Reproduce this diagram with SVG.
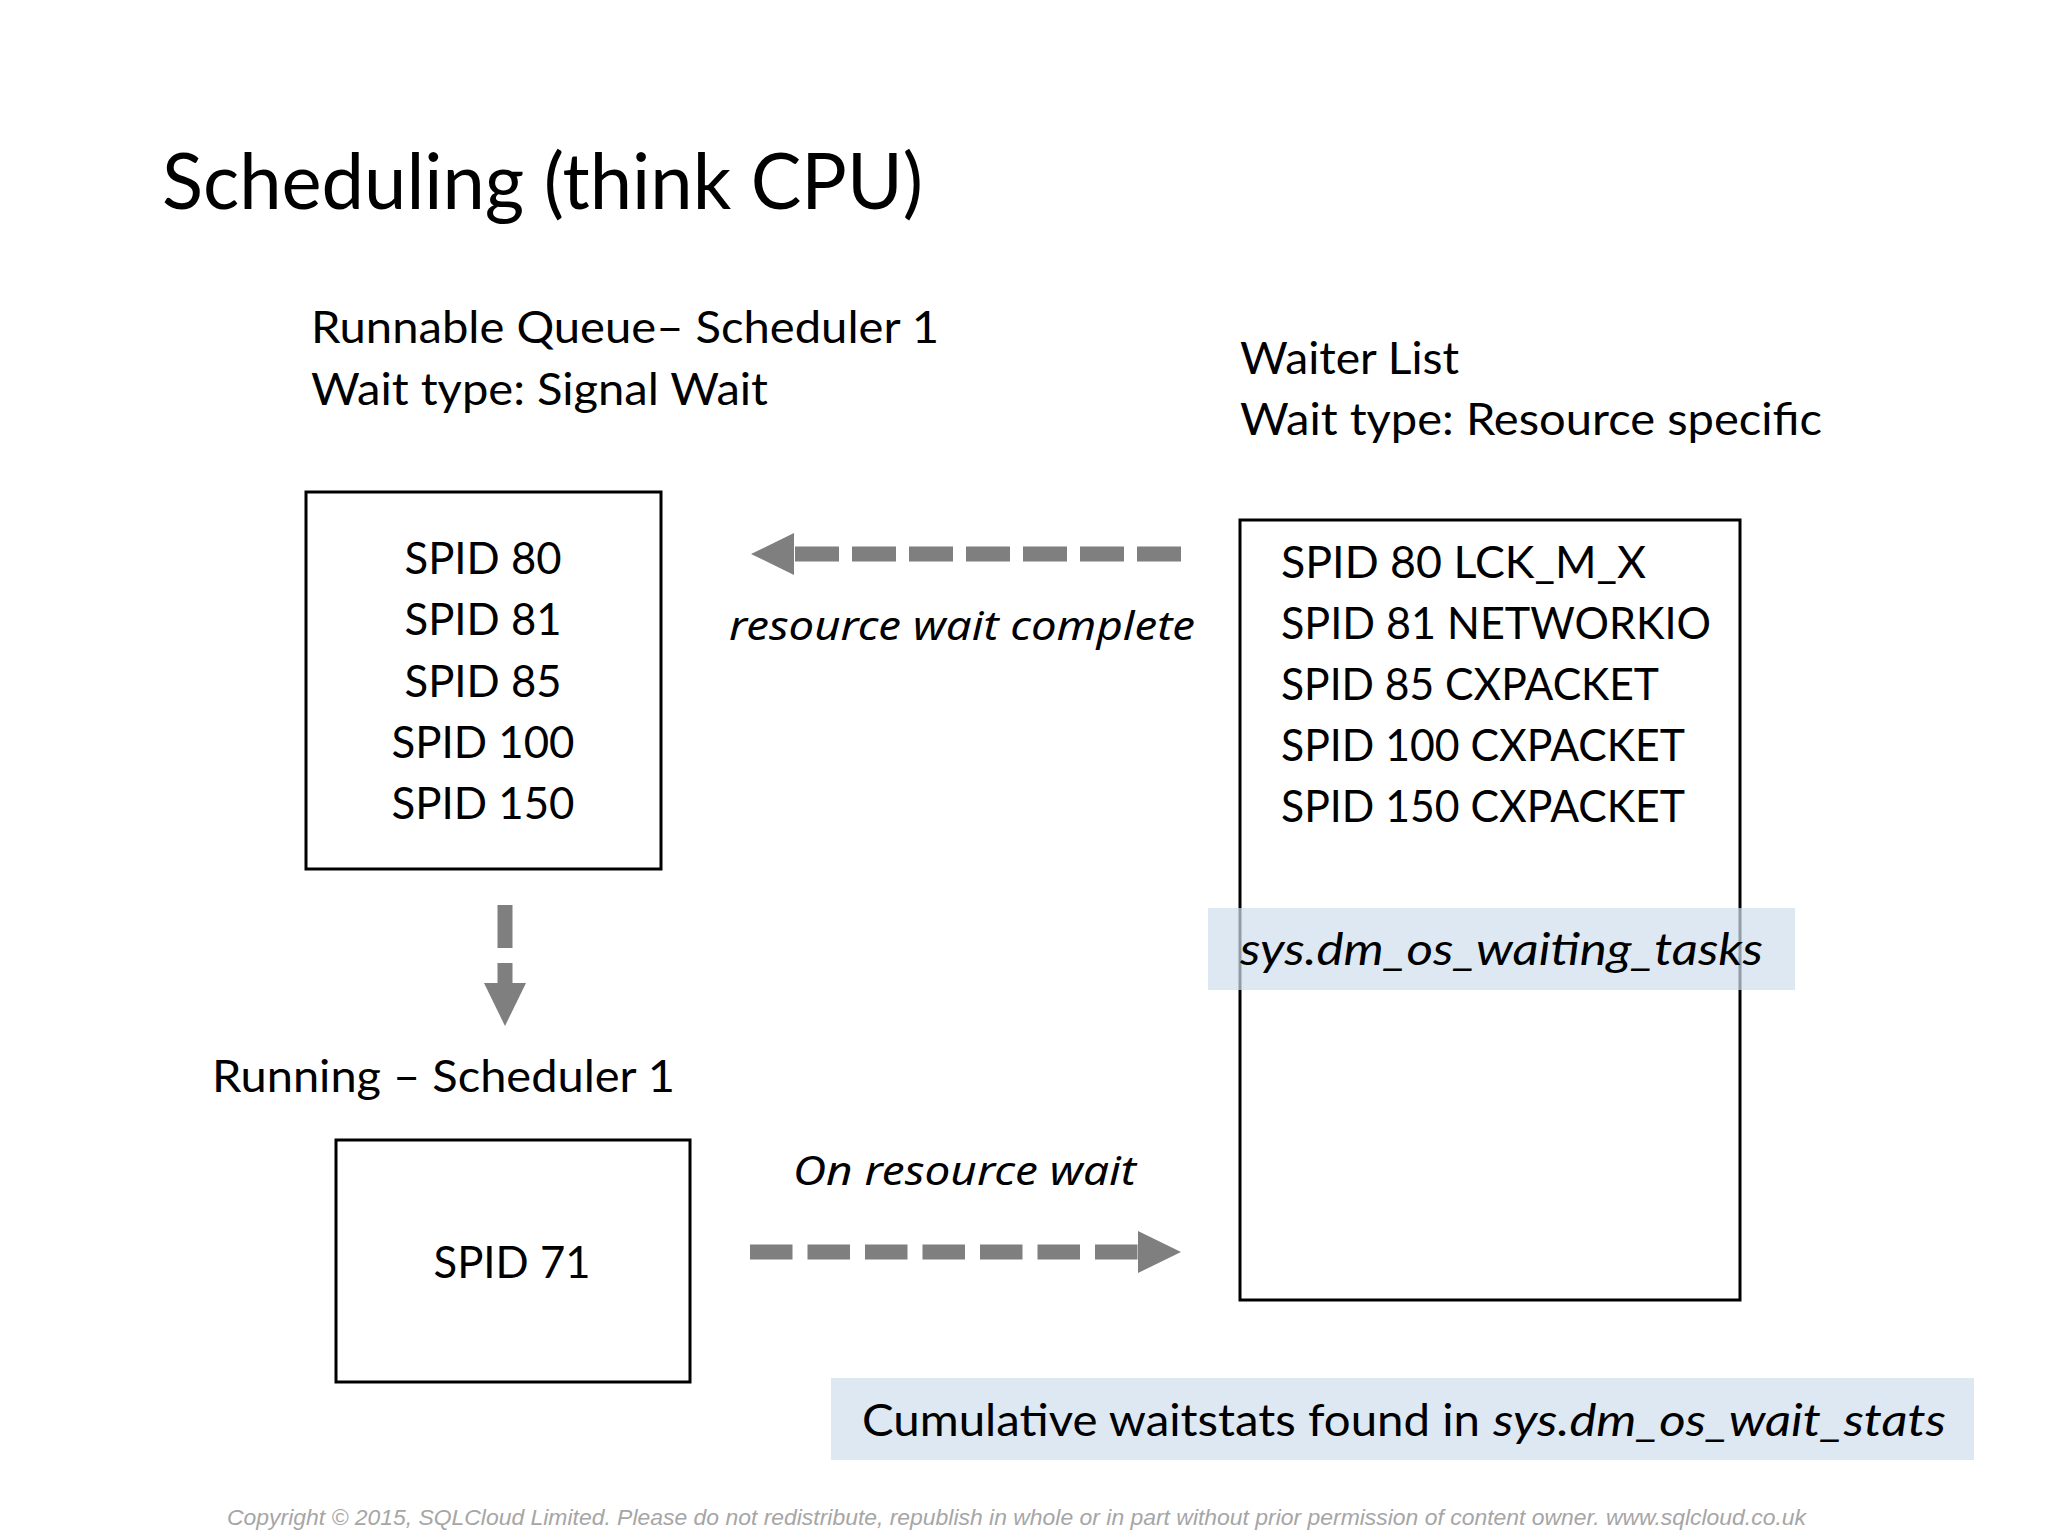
<svg xmlns="http://www.w3.org/2000/svg" width="2048" height="1536" viewBox="0 0 2048 1536">
  <style>
    .t { font-family: Lato, "Open Sans", sans-serif; fill: #000; }
    .h { font-size: 45px; }
    .it { font-style: italic; }
    .script { font-family: "Noto Sans", "Open Sans", sans-serif; font-style: italic; font-size: 40px; fill: #000; }
    .box { fill: none; stroke: #000; stroke-width: 3; }
    .hl { fill: #dde8f3; }
    .conn { fill: none; stroke: #7f7f7f; stroke-width: 15; }
    .copy { font-family: "Liberation Sans", Arial, sans-serif; font-style: italic; font-size: 22px; fill: #a6a6a6; }
  </style>
  <defs>
    <marker id="head" markerUnits="userSpaceOnUse" viewBox="0 0 43 42" refX="0" refY="21" markerWidth="43" markerHeight="42" orient="auto">
      <path d="M0,0 L43,21 L0,42 Z" fill="#7f7f7f"/>
    </marker>
  </defs>
  <rect width="2048" height="1536" fill="#ffffff"/>

  <g id="title">
    <text class="t" x="162" y="209" font-size="78" textLength="761" lengthAdjust="spacingAndGlyphs">Scheduling (think CPU)</text>
  </g>

  <g id="runnable-label">
    <text class="t h" x="311" y="343" textLength="628" lengthAdjust="spacingAndGlyphs">Runnable Queue– Scheduler 1</text>
    <text class="t h" x="311" y="405" textLength="457" lengthAdjust="spacingAndGlyphs">Wait type: Signal Wait</text>
  </g>

  <g id="waiter-label">
    <text class="t h" x="1240" y="374" textLength="219" lengthAdjust="spacingAndGlyphs">Waiter List</text>
    <text class="t h" x="1240" y="435" textLength="582" lengthAdjust="spacingAndGlyphs">Wait type: Resource specific</text>
  </g>

  <g id="runnable-queue">
    <rect class="box" x="306" y="492" width="355" height="377"/>
    <text class="t h" x="483" y="574" text-anchor="middle" textLength="157" lengthAdjust="spacingAndGlyphs">SPID 80</text>
    <text class="t h" x="483" y="635" text-anchor="middle" textLength="157" lengthAdjust="spacingAndGlyphs">SPID 81</text>
    <text class="t h" x="483" y="697" text-anchor="middle" textLength="157" lengthAdjust="spacingAndGlyphs">SPID 85</text>
    <text class="t h" x="483" y="758" text-anchor="middle" textLength="183" lengthAdjust="spacingAndGlyphs">SPID 100</text>
    <text class="t h" x="483" y="819" text-anchor="middle" textLength="183" lengthAdjust="spacingAndGlyphs">SPID 150</text>
  </g>

  <g id="waiter-list">
    <rect class="box" x="1240" y="520" width="500" height="780"/>
    <text class="t h" x="1281" y="578" textLength="365" lengthAdjust="spacingAndGlyphs">SPID 80 LCK_M_X</text>
    <text class="t h" x="1281" y="639" textLength="430" lengthAdjust="spacingAndGlyphs">SPID 81 NETWORKIO</text>
    <text class="t h" x="1281" y="700" textLength="378" lengthAdjust="spacingAndGlyphs">SPID 85 CXPACKET</text>
    <text class="t h" x="1281" y="761" textLength="404" lengthAdjust="spacingAndGlyphs">SPID 100 CXPACKET</text>
    <text class="t h" x="1281" y="822" textLength="404" lengthAdjust="spacingAndGlyphs">SPID 150 CXPACKET</text>
  </g>

  <g id="waiting-tasks">
    <rect x="1208" y="908" width="587" height="82" fill="rgb(206,222,238)" fill-opacity="0.7"/>
    <text class="t h it" x="1240" y="965" textLength="523" lengthAdjust="spacingAndGlyphs">sys.dm_os_waiting_tasks</text>
  </g>

  <g id="running-label">
    <text class="t h" x="212" y="1092" textLength="463" lengthAdjust="spacingAndGlyphs">Running – Scheduler 1</text>
  </g>

  <g id="running">
    <rect class="box" x="336" y="1140" width="354" height="242"/>
    <text class="t h" x="512" y="1278" text-anchor="middle" textLength="157" lengthAdjust="spacingAndGlyphs">SPID 71</text>
  </g>

  <g id="connectors">
    <line class="conn" x1="1181" y1="554" x2="794" y2="554" stroke-dasharray="44 13" marker-end="url(#head)"/>
    <line class="conn" x1="505" y1="905" x2="505" y2="983" stroke-dasharray="43 15" marker-end="url(#head)"/>
    <line class="conn" x1="750" y1="1252" x2="1138" y2="1252" stroke-dasharray="42.5 15" marker-end="url(#head)"/>
    <text class="script" x="729" y="640" textLength="466" lengthAdjust="spacingAndGlyphs">resource wait complete</text>
    <text class="script" x="793" y="1185" textLength="343" lengthAdjust="spacingAndGlyphs">On resource wait</text>
  </g>

  <g id="waitstats-note">
    <rect class="hl" x="831" y="1378" width="1143" height="82"/>
    <text class="t h" y="1436"><tspan x="862" textLength="618" lengthAdjust="spacingAndGlyphs">Cumulative waitstats found in</tspan><tspan class="it" x="1493" textLength="453" lengthAdjust="spacingAndGlyphs">sys.dm_os_wait_stats</tspan></text>
  </g>

  <g id="copyright">
    <text class="copy" x="227" y="1525" textLength="1579" lengthAdjust="spacingAndGlyphs">Copyright © 2015, SQLCloud Limited. Please do not redistribute, republish in whole or in part without prior permission of content owner. www.sqlcloud.co.uk</text>
  </g>
</svg>
